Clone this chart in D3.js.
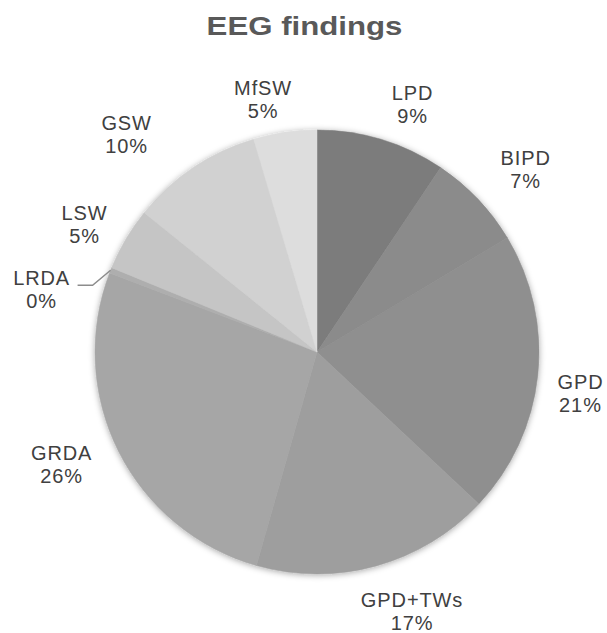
<!DOCTYPE html>
<html>
<head>
<meta charset="utf-8">
<script src="https://cdn.jsdelivr.net/npm/d3@7"></script>
<style>
  body { margin: 0; background: #fff; }
  text { font-family: "Liberation Sans", Arial, sans-serif; }
</style>
</head>
<body>
<div id="card"></div>
<script>
  //chart data, clockwise from 12 o'clock
  const categories = ["LPD", "BIPD", "GPD", "GPD+TWs", "GRDA", "LRDA", "LSW", "GSW", "MfSW"];
  const shares = [9.4, 7.0, 20.6, 17.4, 26.4, 0.4, 4.6, 9.6, 4.6];
  const sliceColors = ["#7b7b7b", "#8b8b8b", "#8f8f8f", "#9e9e9e", "#a6a6a6", "#aeaeae", "#c5c5c5", "#d1d1d1", "#dddddd"];

  //label nudges, Excel places them by hand-ish
  const labelNudge = {
    "LPD": [17, 10], "BIPD": [13, 3], "GPD": [-5, 12], "GPD+TWs": [23, -1],
    "GRDA": [-14, -9], "LSW": [0, 9], "GSW": [-40, 6], "MfSW": [-15, 14]
  };

  const w = 607;
  const h = 633;
  const cx = 317, cy = 352, r = 222;

  const svg = d3.select("#card")
                .append("svg")
                  .attr("width", w)
                  .attr("height", h);

  //soft shadow around the pie
  const defs = svg.append("defs");
  const filter = defs.append("filter")
                  .attr("id", "shadow")
                  .attr("x", "-10%").attr("y", "-10%")
                  .attr("width", "120%").attr("height", "120%");
  filter.append("feDropShadow")
    .attr("dx", 0).attr("dy", 1)
    .attr("stdDeviation", 3)
    .attr("flood-color", "#000")
    .attr("flood-opacity", 0.35);

  //title
  svg.append("text")
    .attr("transform", "translate(" + (w / 2 + 1) + ",35) scale(1.2,1)")
    .attr("text-anchor", "middle")
    .style("font-size", "26px")
    .style("font-weight", "bold")
    .style("fill", "#595959")
    .text("EEG findings");

  const data = categories.map((c, i) => ({ name: c, value: shares[i], color: sliceColors[i] }));

  const pie = d3.pie()
                .value(d => d.value)
                .sort(null);

  const arc = d3.arc()
                .innerRadius(0)
                .outerRadius(r);

  const labelArc = d3.arc()
                .innerRadius(r + 48)
                .outerRadius(r + 48);

  const edgeArc = d3.arc()
                .innerRadius(r)
                .outerRadius(r);

  const chart = svg.append("g")
                .attr("transform", "translate(" + cx + "," + cy + ")");

  const arcs = pie(data);

  chart.append("g")
    .attr("filter", "url(#shadow)")
    .selectAll(".slice")
    .data(arcs)
    .enter()
      .append("path")
      .classed("slice", true)
      .attr("d", arc)
      .style("fill", d => d.data.color)
      .style("stroke", d => d.data.color)
      .style("stroke-width", 0.5);

  //labels
  const labels = chart.selectAll(".label")
                  .data(arcs)
                  .enter()
                    .append("g")
                    .classed("label", true);

  labels.each(function(d){
    const g = d3.select(this);
    const pct = Math.round(d.data.value) + "%";
    let x, y;
    if (d.data.value < 1) {
      //tiny slice gets a leader line
      const p0 = edgeArc.centroid(d);
      const p1 = [p0[0] - 18, p0[1] + 15];
      const p2 = [p1[0] - 15, p1[1]];
      g.append("polyline")
        .attr("points", [p0, p1, p2].map(p => p.join(",")).join(" "))
        .style("fill", "none")
        .style("stroke", "#8c8c8c")
        .style("stroke-width", 1.5);
      x = p2[0] - 36;
      y = p2[1] + 4;
    } else {
      const c = labelArc.centroid(d);
      const n = labelNudge[d.data.name] || [0, 0];
      x = c[0] + n[0];
      y = c[1] + n[1];
    }
    [d.data.name, pct].forEach((t, k) => {
      g.append("text")
        .attr("x", x).attr("y", y - 4 + k * 23)
        .attr("text-anchor", "middle")
        .style("font-size", "20px")
        .style("letter-spacing", "0.9px")
        .style("fill", "#404040")
        .text(t);
    });
  });
</script>
</body>
</html>
